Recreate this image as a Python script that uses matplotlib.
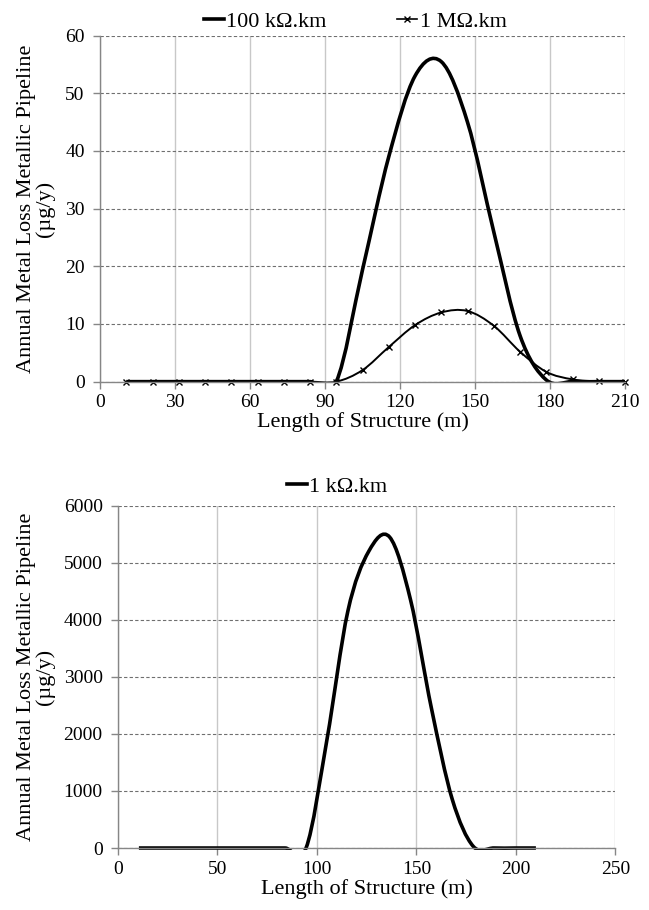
import numpy as np
import matplotlib
matplotlib.use("Agg")
import matplotlib.pyplot as plt
from matplotlib.path import Path
from matplotlib.patches import PathPatch, Rectangle
from matplotlib.lines import Line2D

plt.rcParams['font.family'] = ['Liberation Serif', 'DejaVu Serif']
plt.rcParams['font.size'] = 16

# structure positions (m)
x_pos = [10.5, 21, 31.5, 42, 52.5, 63, 73.5, 84, 94.5, 105, 115.5, 126,
         136.5, 147, 157.5, 168, 178.5, 189, 199.5, 210]

# top chart (ug/y)
loss_100k = [0, 0, 0, 0, 0, 0, 0, 0, 0, 19.4, 39, 53, 55.5, 45, 26, 8, 0.3, 0, 0, 0]
loss_1M = [0, 0, 0, 0, 0, 0, 0, 0, 0, 2.0, 6.0, 9.8, 12.0, 12.25, 9.7, 5.2, 1.7, 0.4, 0.05, 0]

# bottom chart (ug/y)
loss_1k = [0, 0, 0, 0, 0, 0, 0, 0, 0, 1900, 4150, 5200, 5450, 4350, 2450, 850, 30, 0, 0, 0]

GRID_V = '#c8c8c8'
GRID_H = '#6f6f6f'
SPINE = '#868686'


def smooth_path(x, y):
    # excel style smoothed line: cubic bezier through every point
    pts = np.column_stack([x, y]).astype(float)
    n = len(pts)
    verts = [pts[0]]
    codes = [Path.MOVETO]
    for i in range(n - 1):
        p0 = pts[i - 1] if i > 0 else pts[i]
        p1 = pts[i]
        p2 = pts[i + 1]
        p3 = pts[i + 2] if i + 2 < n else pts[i + 1]
        verts += [p1 + (p2 - p0) / 6.0, p2 - (p3 - p1) / 6.0, p2]
        codes += [Path.CURVE4] * 3
    return Path(verts, codes)


def add_curve(ax, x, y, lw):
    patch = PathPatch(smooth_path(x, y), fill=False, edgecolor='black', lw=lw,
                      capstyle='butt', joinstyle='round')
    ax.add_patch(patch)
    clip = Rectangle((0, -0.005), 1, 1.01, transform=ax.transAxes)
    patch.set_clip_path(clip)
    return patch


def style_axes(ax, label_x):
    ax.grid(axis='x', color=GRID_V, lw=1.0, ls='-')
    ax.grid(axis='y', color=GRID_H, lw=0.8, ls=(0, (3, 2)))
    ax.set_axisbelow(True)
    for s in ['top', 'right']:
        ax.spines[s].set_visible(False)
    for s in ['left', 'bottom']:
        ax.spines[s].set_color(SPINE)
        ax.spines[s].set_linewidth(1.0)
    ax.tick_params(axis='both', direction='out', length=5, width=1.0, color=SPINE,
                   labelsize=14)
    ax.tick_params(axis='y', pad=6)
    ax.tick_params(axis='x', pad=4)
    ax.set_ylabel('Annual Metal Loss Metallic Pipeline\n(\u00b5g/y)', fontsize=16,
                  linespacing=0.95)
    ax.yaxis.set_label_coords(label_x, 0.5)
    ax.set_xlabel('Length of Structure (m)', fontsize=16, labelpad=1)


fig = plt.figure(figsize=(6.49, 9.10), dpi=100)

# ---- top chart
ax1 = fig.add_axes([100 / 649, 0.5806, 525 / 649, 0.3802])
add_curve(ax1, x_pos, loss_100k, 2.6)
add_curve(ax1, x_pos, loss_1M, 1.4)
ax1.plot(x_pos, loss_1M, ls='none', marker='x', ms=5, mew=1.0, color='black',
         clip_on=False)
ax1.set_xlim(0, 210)
ax1.set_ylim(0, 60)
ax1.set_xticks(np.arange(0, 211, 30))
ax1.set_yticks(np.arange(0, 61, 10))
style_axes(ax1, -(100 - 55) / 525)
h1 = [Line2D([], [], color='black', lw=2.6),
      Line2D([], [], color='black', lw=1.2, marker='x', ms=5, mew=1.0)]
ax1.legend(h1, ['100 k\u03a9.km', '1 M\u03a9.km'], loc='lower center',
           bbox_to_anchor=(0.486, 0.985), ncol=2, frameon=False, handlelength=0.9,
           handletextpad=0.1, columnspacing=3.2, fontsize=16, borderaxespad=0)

# ---- bottom chart
ax2 = fig.add_axes([118 / 649, 0.0681, 497.5 / 649, 0.3762])
add_curve(ax2, x_pos, loss_1k, 2.6)
ax2.set_xlim(0, 250)
ax2.set_ylim(0, 6000)
ax2.set_xticks(np.arange(0, 251, 50))
ax2.set_yticks(np.arange(0, 6001, 1000))
style_axes(ax2, -(118 - 55) / 497.5)
h2 = [Line2D([], [], color='black', lw=2.6)]
ax2.legend(h2, ['1 k\u03a9.km'], loc='lower center', bbox_to_anchor=(0.44, 1.0),
           ncol=1, frameon=False, handlelength=0.9, handletextpad=0.1,
           fontsize=16, borderaxespad=0)

fig.savefig('out.png', dpi=100)
